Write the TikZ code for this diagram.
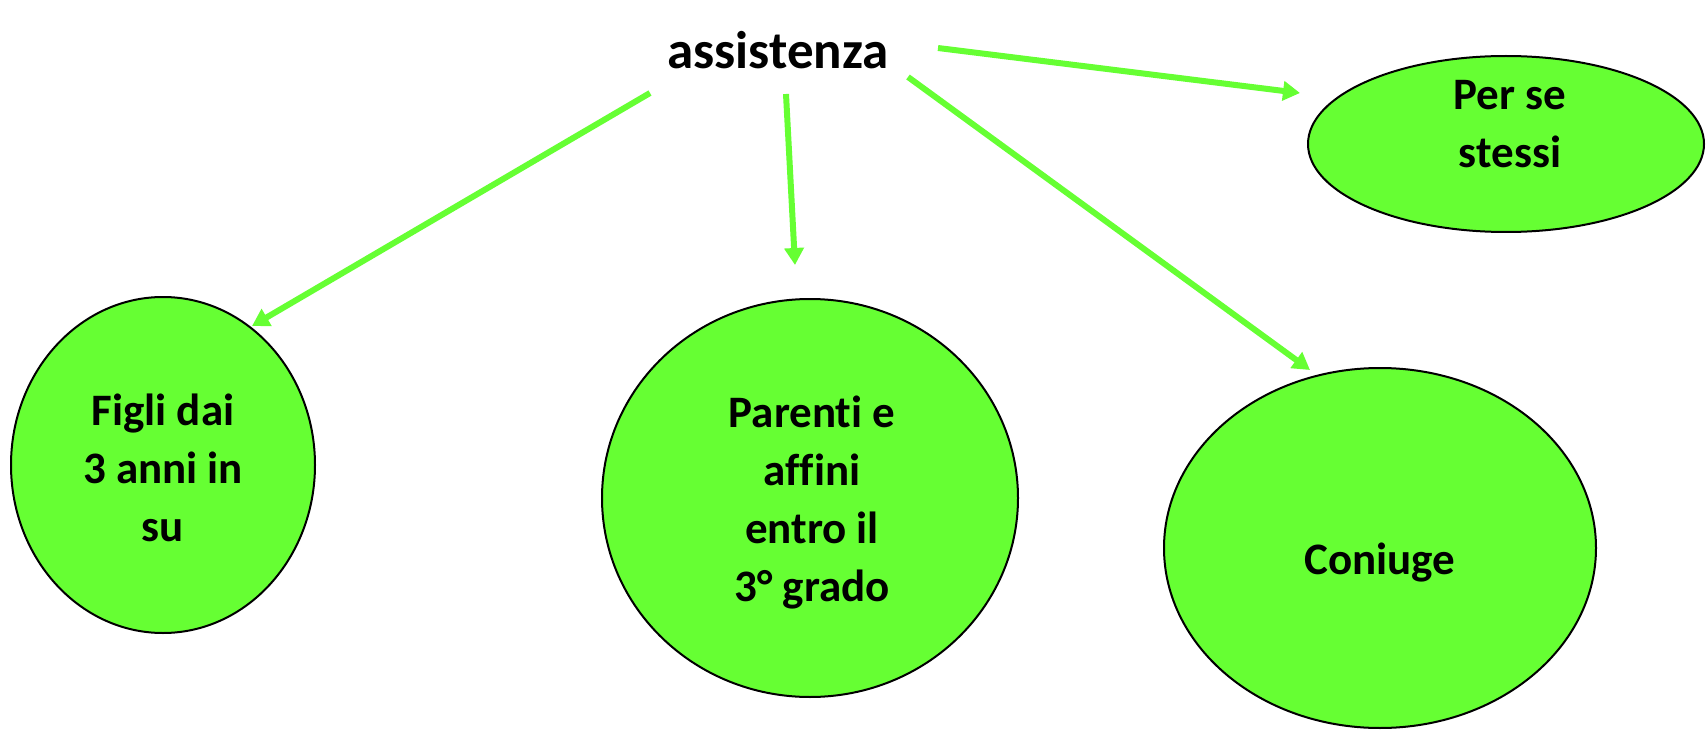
\documentclass[tikz,border=0pt]{standalone}
\usepackage{fontspec}
\setmainfont[Ligatures=NoCommon]{Carlito}
\usetikzlibrary{arrows.meta,shapes.geometric}
\definecolor{lgreen}{RGB}{102,255,51}
\begin{document}
\begin{tikzpicture}[x=1pt,y=-1pt,
  bubble/.style={ellipse,draw=black,line width=2pt,fill=lgreen,inner sep=0pt},
  lbl/.style={font=\bfseries\fontsize{45}{58}\selectfont,align=center,inner sep=0pt},
  arr/.style={draw=lgreen,line width=6pt,-{Triangle[length=17pt,width=19pt]}}]
\useasboundingbox (0,0) rectangle (1706,730);
% ellipses
\node[bubble,minimum width=304pt,minimum height=336pt] (figli) at (163,465) {};
\node[bubble,minimum width=416pt,minimum height=398pt] (parenti) at (810,498) {};
\node[bubble,minimum width=432pt,minimum height=360pt] (coniuge) at (1380,548) {};
\node[bubble,minimum width=396pt,minimum height=176pt] (perse) at (1506,144) {};
% texts
\node[lbl] (tfigli) at (163,468) {Figli dai\\3 anni in\\su};
\node[lbl] (tparenti) at (812,503) {Parenti e\\affini\\entro il\\3° grado};
\node[lbl] (tconiuge) at (1380,563) {Coniuge};
\node[lbl] (tperse) at (1510,124) {Per se\\stessi};
\node[font=\bfseries\fontsize{53}{60}\selectfont,inner sep=0pt,anchor=base] (a) at (778,69) {assistenza};
% arrow ends
\coordinate (s1) at (650,93);  \coordinate (h1) at (252,326);
\coordinate (s2) at (786,94);  \coordinate (h2) at (795,265);
\coordinate (s3) at (908,77);  \coordinate (h3) at (1310,370);
\coordinate (s4) at (938,48);  \coordinate (h4) at (1300,93);
\draw[arr] (s1) -- (h1);
\draw[arr] (s2) -- (h2);
\draw[arr] (s3) -- (h3);
\draw[arr] (s4) -- (h4);
\end{tikzpicture}
\end{document}
